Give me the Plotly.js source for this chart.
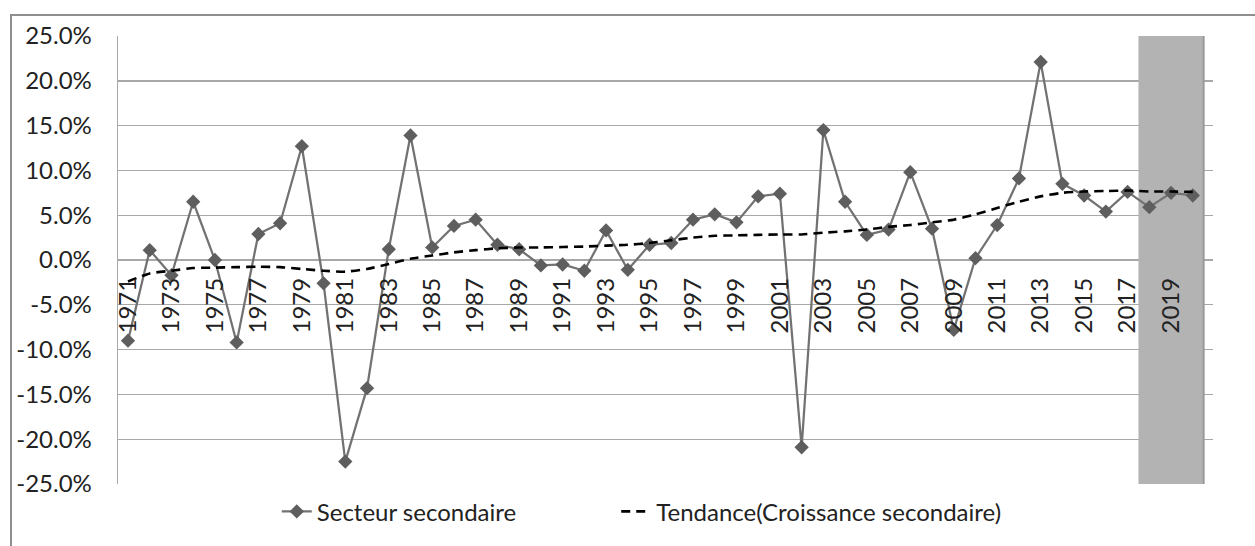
<!DOCTYPE html>
<html>
<head>
<meta charset="utf-8">
<script src="https://cdn.plot.ly/plotly-3.0.1.min.js"></script>
<style>
  html, body { margin: 0; padding: 0; width: 1255px; height: 546px; overflow: hidden; background: #fff; }
  #chart { position: absolute; left: 0; top: 0; width: 1255px; height: 546px; }
  #frame { position: absolute; left: 10px; top: 14px; width: 2000px; height: 2000px;
           border: 2px solid #8e8e8e; pointer-events: none; }
</style>
</head>
<body>
<div id="chart"></div>
<div id="frame"></div>
<script>
// ---- Data (values in %) ----
const years = [1971,1972,1973,1974,1975,1976,1977,1978,1979,1980,
               1981,1982,1983,1984,1985,1986,1987,1988,1989,1990,
               1991,1992,1993,1994,1995,1996,1997,1998,1999,2000,
               2001,2002,2003,2004,2005,2006,2007,2008,2009,2010,
               2011,2012,2013,2014,2015,2016,2017,2018,2019,2020];

const secteurSecondaire = [-9.0, 1.1, -1.7, 6.5, 0.0, -9.2, 2.9, 4.1, 12.7, -2.6,
                           -22.5, -14.3, 1.2, 13.9, 1.4, 3.8, 4.5, 1.7, 1.2, -0.6,
                           -0.5, -1.2, 3.3, -1.1, 1.7, 1.9, 4.5, 5.1, 4.2, 7.1,
                           7.4, -20.9, 14.5, 6.5, 2.8, 3.4, 9.8, 3.5, -7.8, 0.2,
                           3.9, 9.1, 22.1, 8.5, 7.2, 5.4, 7.6, 5.9, 7.5, 7.2];

const tendance = [-2.4, -1.5, -1.2, -0.9, -0.85, -0.8, -0.75, -0.8, -1.0, -1.2,
                  -1.3, -1.0, -0.45, 0.15, 0.5, 0.85, 1.1, 1.3, 1.4, 1.4,
                  1.45, 1.5, 1.6, 1.7, 1.9, 2.2, 2.5, 2.7, 2.75, 2.8,
                  2.85, 2.85, 3.05, 3.2, 3.4, 3.7, 3.9, 4.2, 4.5, 5.1,
                  5.8, 6.5, 7.1, 7.5, 7.65, 7.7, 7.75, 7.65, 7.65, 7.6];

const tickYears = [1971,1973,1975,1977,1979,1981,1983,1985,1987,1989,1991,1993,1995,
                   1997,1999,2001,2003,2005,2007,2009,2011,2013,2015,2017,2019];
const tickLabels = tickYears.map(String);

const yTicks = [-25,-20,-15,-10,-5,0,5,10,15,20,25];
const yTickLabels = yTicks.map(v => v.toFixed(1) + '%');

const highlightYears = [2018, 2019, 2020];

// ---- Plot ----
const FONT = 'Lato, "Open Sans", sans-serif';
const FS = 24;

const traces = [
  {
    x: years, y: secteurSecondaire, name: 'Secteur secondaire', legend: 'legend',
    type: 'scatter', mode: 'lines+markers',
    line: { color: '#727272', width: 2.25 },
    marker: { symbol: 'diamond', size: 11, color: '#5e5e5e' },
    hoverinfo: 'x+y'
  },
  {
    x: years, y: tendance, name: 'Tendance(Croissance secondaire)', legend: 'legend2',
    type: 'scatter', mode: 'lines',
    line: { color: '#000000', width: 2.6, dash: '9px,6px', shape: 'spline', smoothing: 0.6 },
    hoverinfo: 'x+y'
  }
];

const hx0 = Math.min(...highlightYears) - 0.5;
const hx1 = Math.max(...highlightYears) + 0.5;

const legendBase = {
  orientation: 'h', xanchor: 'left', y: -0.062, yanchor: 'middle',
  font: { family: FONT, size: FS, color: '#222222' },
  bgcolor: 'rgba(0,0,0,0)'
};

const layout = {
  width: 1255, height: 546,
  margin: { l: 118, r: 42, t: 36, b: 58 },
  paper_bgcolor: '#ffffff', plot_bgcolor: '#ffffff',
  font: { family: FONT, size: FS, color: '#222222' },
  showlegend: true,
  legend: Object.assign({}, legendBase, { x: 0.145 }),
  legend2: Object.assign({}, legendBase, { x: 0.455 }),
  xaxis: {
    type: 'linear', range: [1970.54, 2020.93],
    tickmode: 'array', tickvals: tickYears, ticktext: tickLabels,
    tickangle: -90, showgrid: false, zeroline: false, showline: false, ticks: '',
    anchor: 'free', position: 0.5, automargin: false,
    ticklabelstandoff: 12,
    tickfont: { family: FONT, size: FS, color: '#222222' }
  },
  yaxis: {
    range: [-25, 25], tickmode: 'array', tickvals: yTicks, ticktext: yTickLabels,
    showgrid: true, gridcolor: '#a8a8a8', gridwidth: 1.4,
    zeroline: false, showline: true, linecolor: '#a8a8a8', linewidth: 1.4,
    ticks: '', automargin: false, ticklabelstandoff: 20,
    tickfont: { family: FONT, size: FS, color: '#222222' }
  },
  shapes: [
    { type: 'rect', xref: 'x', yref: 'y', x0: hx0, x1: hx1, y0: -25, y1: 25,
      fillcolor: '#b3b3b3', line: { width: 0 }, layer: 'between' },
    { type: 'line', xref: 'x', yref: 'y', x0: hx1, x1: hx1, y0: -25, y1: 25,
      line: { color: '#9a9a9a', width: 2 }, layer: 'between' }
  ]
};

Plotly.newPlot('chart', traces, layout, { displayModeBar: false, staticPlot: true });
</script>
</body>
</html>
